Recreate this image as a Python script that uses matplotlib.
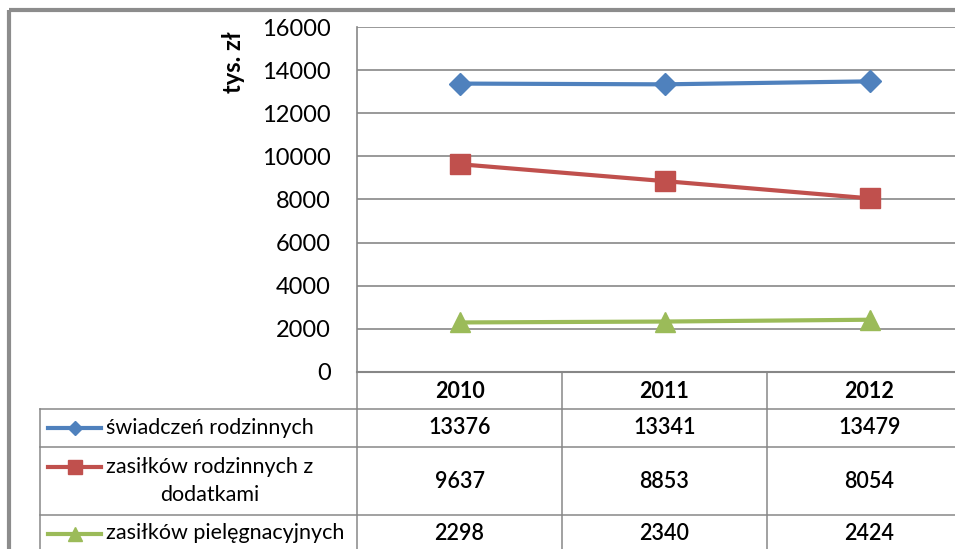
import matplotlib.pyplot as plt

years = ['2010', '2011', '2012']
series_names = ['świadczeń rodzinnych', 'zasiłków rodzinnych z\ndodatkami', 'zasiłków pielęgnacyjnych']
swiadczenia = [13376, 13341, 13479]
zasilki_rodzinne = [9637, 8853, 8054]
zasilki_pieleg = [2298, 2340, 2424]
y_ticks = [0, 2000, 4000, 6000, 8000, 10000, 12000, 14000, 16000]

plt.rcParams['font.family'] = ['Lato', 'DejaVu Sans']

colors = ['#4F81BD', '#C0504D', '#9BBB59']
markers = ['D', 's', '^']
msizes = [11, 14, 14]
key_sizes = [7, 10, 9.5]
grid_c = '#878787'

fig = plt.figure(figsize=(9.55, 5.49), dpi=100)

# overlay in pixel coordinates for the frame and the data table
lay = fig.add_axes([0, 0, 1, 1])
lay.set_xlim(0, 955)
lay.set_ylim(549, 0)
lay.axis('off')

# outer chart border
lay.plot([9, 960], [10, 10], color='#8c8c8c', lw=3, solid_capstyle='butt')
lay.plot([9, 9], [10, 560], color='#8c8c8c', lw=3, solid_capstyle='butt')

# plot area: 3 categories of ~205 px starting at x=357
ax = fig.add_axes([357 / 955, 1 - 372 / 549, 615 / 955, 345 / 549])
ax.set_facecolor('none')
all_series = [swiadczenia, zasilki_rodzinne, zasilki_pieleg]
x = list(range(len(years)))
for vals, c, m, ms in zip(all_series, colors, markers, msizes):
    ax.plot(x, vals, color=c, lw=3, marker=m, markersize=ms,
            markeredgecolor=c, zorder=3)

ax.set_xlim(-0.5, 2.5)
ax.set_ylim(0, 16000)
ax.set_yticks(y_ticks)
ax.set_yticklabels([str(v) for v in y_ticks], fontsize=17)
ax.set_xticks([])
ax.tick_params(axis='y', length=0, pad=19)
ax.grid(axis='y', color=grid_c, lw=1.2)
ax.set_axisbelow(True)
for s in ['top', 'right']:
    ax.spines[s].set_visible(False)
ax.spines['left'].set_color(grid_c)
ax.spines['bottom'].set_color(grid_c)
ax.spines['left'].set_linewidth(1.2)
ax.spines['bottom'].set_linewidth(1.5)

lay.text(233, 62, 'tys. zł', rotation=90, ha='center', va='center',
         fontsize=17, fontweight='bold')

# data table
col_w = 615 / 3
row_edges = [372, 409, 447, 515, 600]
lw_t = 1.1
for yv in row_edges[1:-1]:
    lay.plot([40, 960], [yv, yv], color=grid_c, lw=lw_t)
lay.plot([40, 40], [409, 560], color=grid_c, lw=lw_t)
for i in range(3):
    xv = 357 + i * col_w
    lay.plot([xv, xv], [372, 560], color=grid_c, lw=lw_t)

for i, yr in enumerate(years):
    cx = 357 + (i + 0.5) * col_w
    lay.text(cx, 391, yr, ha='center', va='center', fontsize=15.5, fontweight='bold')

row_y = [428, 481, 533]
for r, (name, vals, c, m, ks) in enumerate(zip(series_names, all_series, colors, markers, key_sizes)):
    ky = 428 if r == 0 else (467 if r == 1 else 534)
    lay.plot([48, 101], [ky, ky], color=c, lw=3)
    lay.plot([74.5], [ky], marker=m, color=c, markersize=ks, markeredgecolor=c)
    lay.text(106, row_y[r], name, ha='left', va='center', fontsize=15.5,
             multialignment='center', linespacing=1.45)
    for i, v in enumerate(vals):
        cx = 357 + (i + 0.5) * col_w
        lay.text(cx, row_y[r], str(v), ha='center', va='center', fontsize=15.5,
                 fontweight='semibold')

fig.savefig('out.png', dpi=100)
